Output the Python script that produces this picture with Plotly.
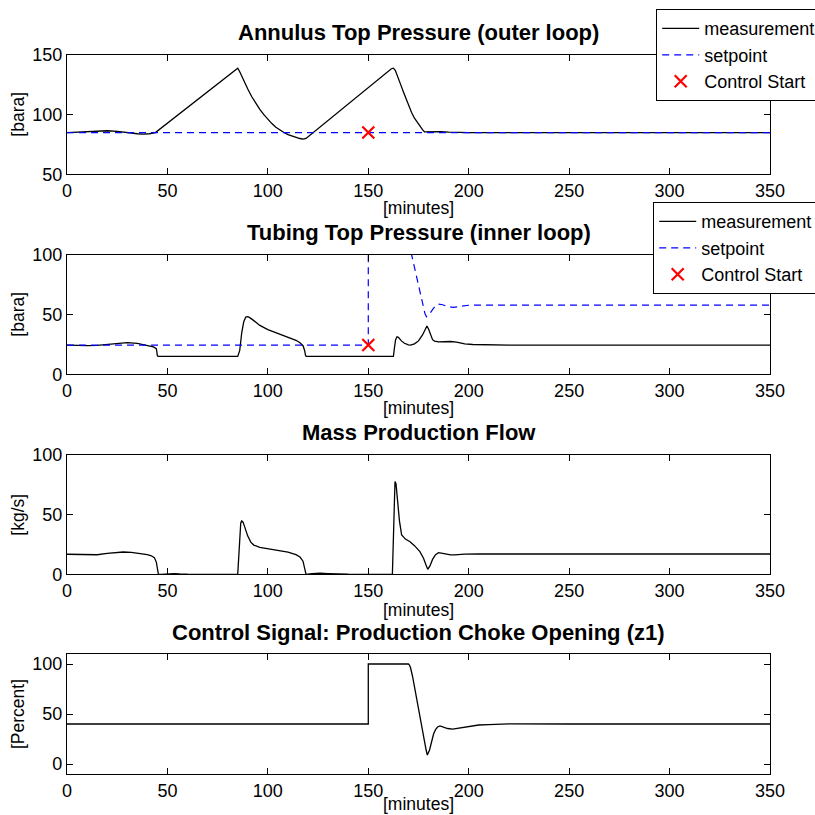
import plotly.graph_objects as go

# ---------------- data ----------------
ann_t = [0, 5, 10, 15, 20, 25, 30, 35, 38, 41, 44, 84, 85, 86, 88, 90, 92, 94, 96, 98, 100, 102, 104, 106, 108,
         110, 112, 114, 116, 117.5, 119, 161.5, 162.5, 163.5, 164.5, 165.5, 166.5, 167.5, 168.5, 170, 171.5, 173,
         174.5, 176, 177, 178, 180, 182, 184, 186, 190, 195, 200, 350]
ann_meas = [85, 85.5, 86, 86.4, 86.5, 86, 84.8, 84, 83.7, 84, 85, 138.3, 139, 136, 128.5, 121.5, 115, 109.5, 104.5,
            100, 96, 92.5, 89.5, 87, 85, 83.3, 82, 80.8, 80, 79.5, 80, 138.5, 139, 137, 133, 128, 123.5, 119, 114.5,
            108, 102, 97, 93, 89.5, 87.5, 85.5, 85.5, 86.1, 86.1, 85.8, 85.3, 85.1, 85, 85]
ann_sp_t = [0, 350]
ann_sp = [85, 85]

tub_t = [0, 5, 10, 15, 20, 25, 30, 35, 40, 43, 44.5, 45, 45.5, 85, 86, 87, 88, 89, 90, 91, 93, 96, 100, 105, 110,
         114, 116, 117.5, 118.3, 118.8, 119.3, 162.5, 163, 163.6, 164.3, 165, 166.5, 168, 170, 171, 173, 175, 177,
         178.5, 179.2, 180, 181, 182, 183, 185, 188, 191, 194, 198, 202, 210, 220, 350]
tub_meas = [24.5, 24.2, 24, 24.3, 25.2, 26, 26.5, 26, 24.5, 23, 21.5, 15.5, 15, 15, 20, 35, 44, 48, 48.3, 47.5, 45,
            41, 37.5, 34.5, 31.5, 28.5, 26.5, 24, 20, 15.5, 15, 15, 22, 29, 31.5, 31, 28, 26, 24.7, 24.5, 25.5, 28,
            33, 38.5, 40.5, 38, 33, 29, 27.8, 27.2, 27.3, 27.5, 27, 25.5, 25, 24.8, 24.5, 24.5]
tub_sp_t = [0, 150, 150, 165, 171.6, 175, 178.2, 179, 180.5, 182.5, 184.8, 187, 189.5, 192.3, 195, 199.8, 210, 350]
tub_sp = [24.5, 24.5, 140, 140, 100, 74, 51, 48.3, 50.5, 55.5, 58.9, 58.3, 56.8, 56.1, 56.6, 57.9, 58, 58]

flow_t = [0, 5, 10, 15, 20, 25, 28, 32, 36, 40, 42, 43.5, 44.5, 45, 45.5, 47, 50, 53, 56, 60, 85, 85.3, 85.8,
          86.5, 87, 87.7, 89, 90, 91.5, 93, 96, 100, 105, 110, 114, 116, 117.5, 118.2, 118.6, 119, 122, 126, 130,
          135, 140, 162, 162.3, 162.8, 163.3, 163.8, 164.5, 165.5, 166.6, 168.5, 170.8, 173, 175.7, 177.5, 178.7,
          179.6, 180.7, 182, 183.5, 185, 187, 189, 191, 193, 195, 198, 205, 350]
flow = [16.8, 16.5, 16.3, 16.4, 17.5, 18.5, 18.7, 18.3, 17.5, 16.5, 15.5, 14, 10, 2, 0, 0, 0.6, 0.6, 0.3, 0.1, 0,
        10, 30, 43, 44.7, 43.5, 37, 32, 27, 24.5, 22.5, 21.5, 20, 18.5, 16.5, 14.5, 11, 5, 1, 0, 0.5, 0.9, 0.6, 0.3,
        0.1, 0, 20, 55, 77.8, 76, 62, 45, 33, 29.5, 27.3, 24, 19, 13.5, 8, 4.2, 7, 12.5, 16.5, 18.1, 17.6, 16.6,
        16.2, 16.3, 16.6, 16.9, 17, 17]

ctrl_t = [0, 150, 150, 170, 170.5, 171, 172, 173, 174, 175, 176, 177, 178, 178.8, 179.4, 180, 180.5, 181.5, 182.5,
          183.5, 184.5, 185.7, 187.5, 189.5, 192, 195, 198, 201, 205, 210, 220, 250, 350]
ctrl = [40, 40, 100, 100, 99, 96.5, 88, 77, 64, 52, 42, 32, 22, 14, 9, 11, 14, 22, 30, 34.5, 37, 38.1, 37, 35.5,
        34.8, 35.8, 37.3, 38.3, 39, 39.4, 40.1, 40, 40]

start_t = [150]
start_ann = [85]
start_tub = [24.5]

titles = ["Annulus Top Pressure (outer loop)", "Tubing Top Pressure (inner loop)",
          "Mass Production Flow", "Control Signal: Production Choke Opening (z1)"]
ylabels = ["[bara]", "[bara]", "[kg/s]", "[Percent]"]
xlabel = "[minutes]"
xticks = [0, 50, 100, 150, 200, 250, 300, 350]
yticks = [[50, 100, 150], [0, 50, 100], [0, 50, 100], [0, 50, 100]]
yranges = [[50, 150], [0, 100], [0, 100], [-10, 110]]

# ---------------- layout geometry (pixels) ----------------
W = H = 815
FONT = "Liberation Sans, Arial, Helvetica, sans-serif"
plot_px = [(55, 174.3), (255, 374.3), (455, 574.3), (654, 774)]
title_px = [33, 232, 432, 632]
xlabel_px = [208, 408, 610, 804]


def py(p):
    return 1 - p / H


fig = go.Figure()

meas_line = dict(color="black", width=1.3)
sp_line = dict(color="blue", width=1.2, dash="7px,5px")
xmark = dict(symbol="x-thin", size=12, line=dict(color="red", width=2.2), color="red")

# subplot 1
fig.add_trace(go.Scatter(x=ann_t, y=ann_meas, mode="lines", line=meas_line, name="measurement",
                         xaxis="x", yaxis="y", legend="legend"))
fig.add_trace(go.Scatter(x=ann_sp_t, y=ann_sp, mode="lines", line=sp_line, name="setpoint",
                         xaxis="x", yaxis="y", legend="legend"))
fig.add_trace(go.Scatter(x=start_t, y=start_ann, mode="markers", marker=xmark, name="Control Start",
                         xaxis="x", yaxis="y", legend="legend"))
# subplot 2
fig.add_trace(go.Scatter(x=tub_t, y=tub_meas, mode="lines", line=meas_line, name="measurement",
                         xaxis="x2", yaxis="y2", legend="legend2"))
fig.add_trace(go.Scatter(x=tub_sp_t, y=tub_sp, mode="lines", line=sp_line, name="setpoint",
                         xaxis="x2", yaxis="y2", legend="legend2"))
fig.add_trace(go.Scatter(x=start_t, y=start_tub, mode="markers", marker=xmark, name="Control Start",
                         xaxis="x2", yaxis="y2", legend="legend2"))
# subplot 3
fig.add_trace(go.Scatter(x=flow_t, y=flow, mode="lines", line=meas_line, showlegend=False,
                         xaxis="x3", yaxis="y3"))
# subplot 4
fig.add_trace(go.Scatter(x=ctrl_t, y=ctrl, mode="lines", line=meas_line, showlegend=False,
                         xaxis="x4", yaxis="y4"))

layout = dict(width=W, height=H, margin=dict(l=67, r=45, t=0, b=0, autoexpand=False), autosize=False,
              paper_bgcolor="white", plot_bgcolor="white",
              font=dict(family=FONT, size=18, color="black"))

axis_common = dict(showline=True, linecolor="black", linewidth=1.2, mirror="allticks", ticks="inside",
                   ticklen=6, tickwidth=1, tickcolor="black", showgrid=False, zeroline=False,
                   automargin=False, tickfont=dict(family=FONT, size=18, color="black"))

annotations = []
for i in range(4):
    sfx = "" if i == 0 else str(i + 1)
    top, bot = plot_px[i]
    layout["xaxis" + sfx] = dict(axis_common, domain=[0, 1], range=[0, 350], tickvals=xticks,
                                 anchor="y" + sfx)
    layout["yaxis" + sfx] = dict(axis_common, domain=[py(bot), py(top)], range=yranges[i],
                                 tickvals=yticks[i], anchor="x" + sfx)
    annotations.append(dict(text="<b>" + titles[i] + "</b>", xref="paper", yref="paper", x=0.5, y=py(title_px[i]),
                            xanchor="center", yanchor="middle", showarrow=False,
                            font=dict(family=FONT, size=22, color="black")))
    annotations.append(dict(text=xlabel, xref="paper", yref="paper", x=0.5, y=py(xlabel_px[i]),
                            xanchor="center", yanchor="middle", showarrow=False,
                            font=dict(family=FONT, size=17.5, color="black")))
    annotations.append(dict(text=ylabels[i], xref="paper", yref="paper", x=(18 - 67) / 703,
                            y=py((top + bot) / 2), xanchor="center", yanchor="middle", textangle=-90,
                            showarrow=False, font=dict(family=FONT, size=17.5, color="black")))

legend_common = dict(bgcolor="white", bordercolor="black", borderwidth=1.2,
                     font=dict(family=FONT, size=18, color="black"), xanchor="left", yanchor="top",
                     tracegroupgap=0, itemwidth=37)
layout["legend"] = dict(legend_common, x=(656 - 67) / 703, y=py(9))
layout["legend2"] = dict(legend_common, x=(653 - 67) / 703, y=py(202))
layout["annotations"] = annotations

fig.update_layout(**layout)
fig.write_html("out.html")
